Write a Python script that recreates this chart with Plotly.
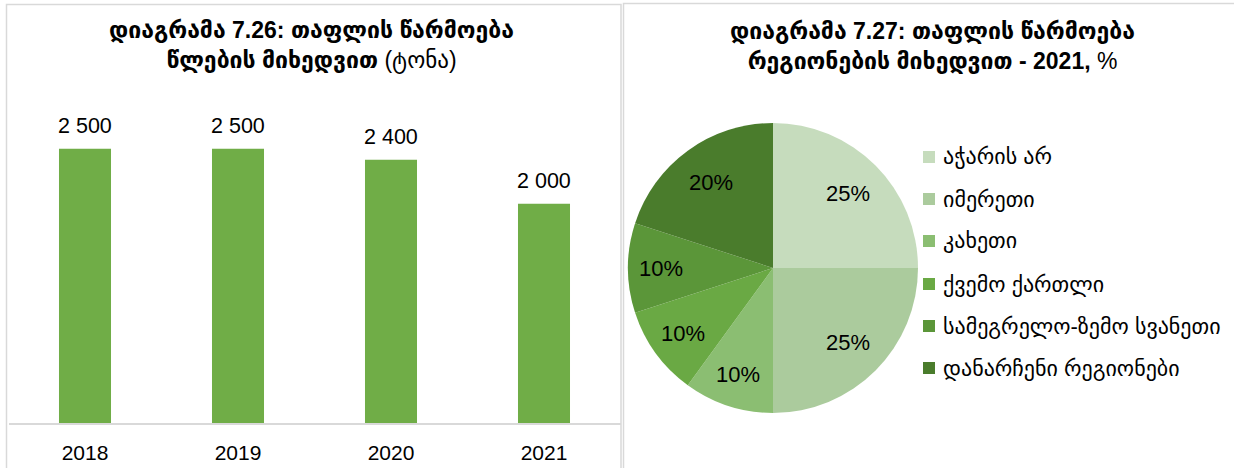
import math
import plotly.graph_objects as go

# bar chart data
years = ["2018", "2019", "2020", "2021"]
honey_tonnes = [2500, 2500, 2400, 2000]
bar_labels = ["2 500", "2 500", "2 400", "2 000"]

# pie chart data
regions = ["აჭარის არ", "იმერეთი", "კახეთი", "ქვემო ქართლი",
           "სამეგრელო-ზემო სვანეთი", "დანარჩენი რეგიონები"]
region_share = [25, 25, 10, 10, 10, 20]
region_colors = ["#C6DCBD", "#ABCB9D", "#8BBE72", "#6AA944", "#5B9639", "#4A7C2C"]

W, H = 1234, 468
GEO = "Liberation Sans, DejaVu Sans, sans-serif"
NUM = "Liberation Sans, Arial, sans-serif"


def px(x):
    return x / W


def py(y):
    return 1 - y / H


fig = go.Figure()

fig.add_trace(go.Bar(
    x=years, y=honey_tonnes,
    marker=dict(color="#70AD47", line=dict(width=0)),
    width=0.34,
    hoverinfo="skip",
    showlegend=False,
))

# value labels above the bars (category index on the x axis)
for i, (v, lab) in enumerate(zip(honey_tonnes, bar_labels)):
    fig.add_annotation(x=i, y=v, xref="x", yref="y", text=lab, showarrow=False,
                       xanchor="center", yanchor="bottom", yshift=9,
                       font=dict(family=NUM, size=21.5, color="#000000"))

# pie geometry (pixels)
pcx, pcy, pr = 773, 268, 145
fig.add_trace(go.Pie(
    labels=regions, values=region_share,
    marker=dict(colors=region_colors, line=dict(width=0)),
    sort=False, direction="clockwise", rotation=0,
    textinfo="none",
    domain=dict(x=[px(pcx - pr), px(pcx + pr)], y=[py(pcy + pr), py(pcy - pr)]),
    showlegend=False,
    hoverinfo="skip",
))

# percentage labels placed like the original (further out than plotly's default)
total = sum(region_share)
cum = 0
for v in region_share:
    mid = (cum + v / 2) / total * 2 * math.pi
    cum += v
    rr = pr * (0.73 if v >= 20 else 0.77)
    lx = pcx + rr * math.sin(mid)
    ly = pcy - rr * math.cos(mid)
    fig.add_annotation(x=px(lx), y=py(ly), xref="paper", yref="paper",
                       text=f"{v}%", showarrow=False, xanchor="center", yanchor="middle",
                       font=dict(family=NUM, size=22, color="#000000"))

# custom legend for the pie
leg_y = [157, 199, 241, 284, 326, 368]
for name, col, yy in zip(regions, region_colors, leg_y):
    fig.add_shape(type="rect", xref="paper", yref="paper",
                  x0=px(923), x1=px(935), y0=py(yy + 6), y1=py(yy - 6),
                  fillcolor=col, line=dict(width=0))
    fig.add_annotation(x=px(941), y=py(yy), xref="paper", yref="paper",
                       text=name, showarrow=False, xanchor="left", yanchor="middle",
                       font=dict(family=GEO, size=22, color="#000000"))

# panel frames
fig.add_shape(type="rect", xref="paper", yref="paper",
              x0=px(6.5), x1=px(621), y0=py(475), y1=py(4.5),
              line=dict(color="#D9D9D9", width=1.5), fillcolor="rgba(0,0,0,0)")
fig.add_shape(type="rect", xref="paper", yref="paper",
              x0=px(623.5), x1=px(1240), y0=py(475), y1=py(3.5),
              line=dict(color="#D9D9D9", width=1.5), fillcolor="rgba(0,0,0,0)")

# titles
fig.add_annotation(x=px(312), y=py(46), xref="paper", yref="paper", showarrow=False,
                   text="<b>დიაგრამა 7.26: თაფლის წარმოება</b><br><b>წლების მიხედვით</b> (ტონა)",
                   font=dict(family=GEO, size=23, color="#000000"), align="center",
                   xanchor="center", yanchor="middle")
fig.add_annotation(x=px(932), y=py(46), xref="paper", yref="paper", showarrow=False,
                   text="<b>დიაგრამა 7.27: თაფლის წარმოება</b><br><b>რეგიონების მიხედვით - 2021,</b> %",
                   font=dict(family=GEO, size=23, color="#000000"), align="center",
                   xanchor="center", yanchor="middle")

fig.update_layout(
    width=W, height=H,
    margin=dict(l=0, r=0, t=0, b=0),
    paper_bgcolor="white", plot_bgcolor="white",
    xaxis=dict(type="category", domain=[px(8.5), px(620.5)], range=[-0.5, 3.5],
               showline=True, linecolor="#D9D9D9", linewidth=1.5,
               ticks="", showgrid=False, ticklabelstandoff=10,
               tickfont=dict(family=NUM, size=21, color="#000000")),
    yaxis=dict(domain=[py(423), py(94)], range=[0, 3000],
               visible=False, showgrid=False),
    bargap=0.66,
)

fig.write_html("out.html", post_script="document.body.style.margin='0';",
               config={"displayModeBar": False})
